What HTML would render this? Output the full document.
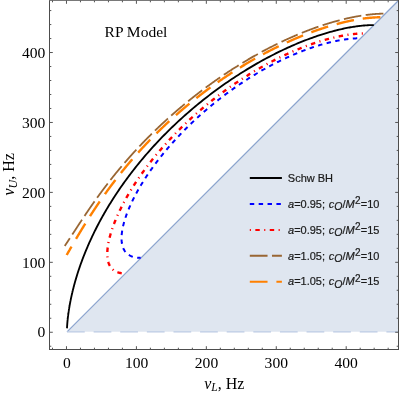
<!DOCTYPE html>
<html><head><meta charset="utf-8"><title>RP Model</title>
<style>html,body{margin:0;padding:0;background:#fff}svg{display:block}</style></head>
<body>
<svg width="399" height="393" viewBox="0 0 399 393">
<rect width="399" height="393" fill="#fff"/>
<polygon points="67.00,331.80 398.50,331.80 398.50,0.50" fill="#dfe6f0"/>
<line x1="67.00" y1="331.80" x2="398.50" y2="0.50" stroke="#8ba4ce" stroke-width="1.2"/>
<line x1="67.00" y1="331.80" x2="398.50" y2="331.80" stroke="#bccae4" stroke-width="1.3" stroke-dasharray="17.744 8.872" stroke-dashoffset="0"/>
<path d="M373.82,25.08 L373.70,25.08 L373.49,25.08 L373.21,25.08 L372.87,25.09 L372.50,25.09 L372.08,25.10 L371.62,25.11 L371.13,25.12 L370.60,25.13 L370.04,25.15 L369.45,25.17 L368.83,25.20 L368.17,25.23 L367.49,25.27 L366.78,25.31 L366.04,25.36 L365.27,25.41 L364.48,25.47 L363.66,25.54 L362.81,25.62 L361.93,25.70 L361.03,25.80 L360.10,25.90 L359.15,26.01 L358.17,26.13 L357.16,26.26 L356.13,26.40 L355.07,26.55 L353.99,26.72 L352.88,26.89 L351.74,27.08 L350.58,27.27 L349.40,27.49 L348.19,27.71 L346.96,27.95 L345.70,28.20 L344.41,28.46 L343.11,28.74 L341.77,29.03 L340.42,29.34 L339.04,29.66 L337.64,30.00 L336.21,30.36 L334.76,30.73 L333.28,31.12 L331.79,31.52 L330.27,31.94 L328.73,32.38 L327.16,32.83 L325.58,33.31 L323.97,33.80 L322.34,34.31 L320.69,34.84 L319.02,35.38 L317.33,35.95 L315.62,36.53 L313.89,37.14 L312.14,37.76 L310.37,38.40 L308.58,39.07 L306.77,39.75 L304.95,40.45 L303.11,41.18 L301.25,41.92 L299.37,42.68 L297.48,43.46 L295.58,44.27 L293.66,45.09 L291.72,45.94 L289.77,46.80 L287.81,47.69 L285.84,48.59 L283.85,49.52 L281.85,50.47 L279.84,51.44 L277.82,52.42 L275.78,53.43 L273.74,54.46 L271.69,55.51 L269.64,56.58 L267.57,57.67 L265.50,58.78 L263.42,59.91 L261.33,61.05 L259.24,62.22 L257.15,63.41 L255.05,64.61 L252.94,65.84 L250.84,67.08 L248.73,68.34 L246.62,69.62 L244.51,70.92 L242.40,72.23 L240.29,73.56 L238.19,74.91 L236.08,76.27 L233.97,77.65 L231.87,79.05 L229.77,80.46 L227.68,81.89 L225.59,83.34 L223.51,84.79 L221.43,86.27 L219.36,87.75 L217.29,89.25 L215.23,90.76 L213.18,92.29 L211.14,93.83 L209.11,95.37 L207.09,96.94 L205.08,98.51 L203.08,100.09 L201.09,101.68 L199.11,103.29 L197.14,104.90 L195.19,106.52 L193.24,108.15 L191.32,109.79 L189.40,111.43 L187.50,113.08 L185.61,114.74 L183.74,116.41 L181.89,118.08 L180.05,119.76 L178.22,121.44 L176.41,123.12 L174.62,124.81 L172.85,126.51 L171.09,128.20 L169.35,129.90 L167.62,131.61 L165.92,133.31 L164.23,135.01 L162.56,136.72 L160.91,138.43 L159.27,140.13 L157.66,141.84 L156.06,143.55 L154.49,145.25 L152.93,146.96 L151.39,148.66 L149.87,150.36 L148.37,152.06 L146.89,153.75 L145.42,155.44 L143.98,157.13 L142.56,158.81 L141.15,160.49 L139.77,162.17 L138.40,163.84 L137.05,165.50 L135.73,167.16 L134.42,168.81 L133.13,170.46 L131.86,172.10 L130.61,173.73 L129.38,175.36 L128.17,176.98 L126.98,178.59 L125.80,180.19 L124.64,181.78 L123.51,183.37 L122.39,184.95 L121.29,186.52 L120.21,188.08 L119.14,189.63 L118.09,191.17 L117.06,192.71 L116.05,194.23 L115.06,195.74 L114.08,197.24 L113.12,198.74 L112.18,200.22 L111.25,201.69 L110.35,203.15 L109.45,204.60 L108.58,206.04 L107.71,207.47 L106.87,208.89 L106.04,210.29 L105.23,211.69 L104.43,213.07 L103.64,214.44 L102.87,215.80 L102.12,217.15 L101.38,218.49 L100.65,219.81 L99.94,221.13 L99.24,222.43 L98.56,223.72 L97.89,225.00 L97.23,226.26 L96.59,227.52 L95.96,228.76 L95.34,229.99 L94.73,231.21 L94.14,232.42 L93.55,233.61 L92.98,234.79 L92.42,235.96 L91.88,237.12 L91.34,238.27 L90.81,239.41 L90.30,240.53 L89.80,241.64 L89.30,242.74 L88.82,243.83 L88.35,244.91 L87.88,245.97 L87.43,247.02 L86.99,248.06 L86.55,249.09 L86.13,250.11 L85.71,251.12 L85.30,252.12 L84.90,253.10 L84.51,254.08 L84.13,255.04 L83.76,255.99 L83.39,256.93 L83.03,257.86 L82.68,258.78 L82.34,259.69 L82.01,260.58 L81.68,261.47 L81.36,262.35 L81.04,263.21 L80.74,264.07 L80.44,264.91 L80.14,265.75 L79.86,266.57 L79.58,267.39 L79.30,268.19 L79.03,268.99 L78.77,269.77 L78.51,270.55 L78.26,271.31 L78.02,272.07 L77.78,272.82 L77.54,273.55 L77.31,274.28 L77.09,275.00 L76.87,275.71 L76.65,276.41 L76.44,277.11 L76.24,277.79 L76.04,278.47 L75.84,279.13 L75.65,279.79 L75.46,280.44 L75.28,281.08 L75.10,281.71 L74.92,282.34 L74.75,282.96 L74.58,283.57 L74.42,284.17 L74.26,284.76 L74.10,285.35 L73.95,285.92 L73.80,286.49 L73.65,287.06 L73.51,287.61 L73.37,288.16 L73.23,288.70 L73.09,289.24 L72.96,289.77 L72.84,290.29 L72.71,290.80 L72.59,291.31 L72.47,291.81 L72.35,292.30 L72.24,292.79 L72.12,293.27 L72.01,293.74 L71.91,294.21 L71.80,294.68 L71.70,295.13 L71.60,295.58 L71.50,296.03 L71.41,296.46 L71.31,296.90 L71.22,297.32 L71.13,297.74 L71.04,298.16 L70.96,298.57 L70.87,298.98 L70.79,299.37 L70.71,299.77 L70.63,300.16 L70.56,300.54 L70.48,300.92 L70.41,301.29 L70.34,301.66 L70.27,302.03 L70.20,302.39 L70.13,302.74 L70.07,303.09 L70.00,303.43 L69.94,303.78 L69.88,304.11 L69.82,304.44 L69.76,304.77 L69.70,305.09 L69.64,305.41 L69.59,305.73 L69.54,306.04 L69.48,306.34 L69.43,306.64 L69.38,306.94 L69.33,307.24 L69.28,307.53 L69.24,307.81 L69.19,308.10 L69.14,308.38 L69.10,308.65 L69.06,308.92 L69.01,309.19 L68.97,309.46 L68.93,309.72 L68.89,309.98 L68.85,310.23 L68.81,310.48 L68.78,310.73 L68.74,310.97 L68.70,311.22 L68.67,311.45 L68.64,311.69 L68.60,311.92 L68.57,312.15 L68.54,312.38 L68.51,312.60 L68.47,312.82 L68.44,313.04 L68.41,313.25 L68.39,313.47 L68.36,313.68 L68.33,313.88 L68.30,314.09 L68.28,314.29 L68.25,314.49 L68.22,314.68 L68.20,314.88 L68.18,315.07 L68.15,315.26 L68.13,315.44 L68.10,315.63 L68.08,315.81 L68.06,315.99 L68.04,316.16 L68.02,316.34 L68.00,316.51 L67.98,316.68 L67.96,316.85 L67.94,317.02 L67.92,317.18 L67.90,317.34 L67.88,317.50 L67.86,317.66 L67.84,317.82 L67.83,317.97 L67.81,318.12 L67.79,318.27 L67.78,318.42 L67.76,318.57 L67.75,318.71 L67.73,318.85 L67.72,318.99 L67.70,319.13 L67.69,319.27 L67.67,319.41 L67.66,319.54 L67.65,319.67 L67.63,319.80 L67.62,319.93 L67.61,320.06 L67.59,320.19 L67.58,320.31 L67.57,320.43 L67.56,320.56 L67.55,320.68 L67.53,320.79 L67.52,320.91 L67.51,321.03 L67.50,321.14 L67.49,321.25 L67.48,321.37 L67.47,321.48 L67.46,321.58 L67.45,321.69 L67.44,321.80 L67.43,321.90 L67.42,322.01 L67.41,322.11 L67.41,322.21 L67.40,322.31 L67.39,322.41 L67.38,322.51 L67.37,322.60 L67.36,322.70 L67.36,322.79 L67.35,322.89 L67.34,322.98 L67.33,323.07 L67.33,323.16 L67.32,323.25 L67.31,323.33 L67.30,323.42 L67.30,323.51 L67.29,323.59 L67.28,323.67 L67.28,323.76 L67.27,323.84 L67.27,323.92 L67.26,324.00 L67.25,324.08 L67.25,324.16 L67.24,324.23 L67.24,324.31 L67.23,324.38 L67.23,324.46 L67.22,324.53 L67.22,324.61 L67.21,324.68 L67.20,324.75 L67.20,324.82 L67.20,324.89 L67.19,324.96 L67.19,325.02 L67.18,325.09 L67.18,325.16 L67.17,325.22 L67.17,325.29 L67.16,325.35 L67.16,325.42 L67.16,325.48 L67.15,325.54 L67.15,325.60 L67.14,325.66 L67.14,325.72 L67.14,325.78 L67.13,325.84 L67.13,325.90 L67.12,325.95 L67.12,326.01 L67.12,326.07 L67.11,326.12 L67.11,326.18 L67.11,326.23 L67.10,326.29 L67.10,326.34 L67.10,326.39 L67.10,326.44 L67.09,326.49 L67.09,326.54 L67.09,326.59 L67.08,326.64 L67.08,326.69 L67.08,326.74 L67.08,326.79 L67.07,326.84 L67.07,326.88 L67.07,326.93 L67.06,326.98 L67.06,327.02 L67.06,327.07 L67.06,327.11 L67.05,327.15 L67.05,327.20 L67.05,327.24 L67.05,327.28 L67.05,327.33 L67.04,327.37 L67.04,327.41 L67.04,327.45 L67.04,327.49 L67.04,327.53 L67.03,327.57 L67.03,327.61 L67.03,327.65 L67.03,327.69 L67.03,327.72 L67.02,327.76 L67.02,327.80 L67.02,327.84 L67.02,327.87 L67.02,327.91 L67.02,327.94 L67.01,327.98 L67.01,328.01 L67.01,328.05 L67.01,328.08 L67.01,328.12 L67.01,328.15 L67.00,328.18 L67.00,328.21 L67.00,328.25 L67.00,328.28 L67.00,328.31 L67.00,328.34" fill="none" stroke="#000" stroke-width="1.85" stroke-linejoin="round"/>
<path d="M357.23,38.33 L356.73,38.35 L356.23,38.37 L355.73,38.39 L355.24,38.42 L354.74,38.45 L354.24,38.48 L353.74,38.51 L353.24,38.55 L352.74,38.59 L352.24,38.63 L351.74,38.67 L351.25,38.72 L350.75,38.76 L350.25,38.81 L349.75,38.86 L349.26,38.91 L348.76,38.97 L348.26,39.03 L347.77,39.08 L347.27,39.15 L346.77,39.21 L346.28,39.27 L345.78,39.34 L345.29,39.41 L344.79,39.48 L344.30,39.55 L343.80,39.62 L343.31,39.70 L342.81,39.77 L342.32,39.85 L341.83,39.93 L341.33,40.01 L340.84,40.10 L340.35,40.18 L339.86,40.27 L339.36,40.36 L338.87,40.45 L338.38,40.54 L337.89,40.63 L337.40,40.73 L336.91,40.82 L336.42,40.92 L335.93,41.02 L335.44,41.12 L334.95,41.22 L334.46,41.33 L333.97,41.43 L333.48,41.54 L332.99,41.65 L332.50,41.76 L332.02,41.87 L331.53,41.98 L331.04,42.09 L330.56,42.21 L330.07,42.32 L329.58,42.44 L329.10,42.56 L328.61,42.68 L328.13,42.80 L327.64,42.92 L327.16,43.05 L326.67,43.17 L326.19,43.30 L325.71,43.43 L325.22,43.56 L324.74,43.69 L324.26,43.82 L323.78,43.95 L323.30,44.08 L322.81,44.22 L322.33,44.36 L321.85,44.49 L321.37,44.63 L320.89,44.77 L320.41,44.91 L319.93,45.05 L319.45,45.20 L318.97,45.34 L318.50,45.49 L318.02,45.63 L317.54,45.78 L317.06,45.93 L316.59,46.08 L316.11,46.23 L315.63,46.38 L315.16,46.53 L314.68,46.69 L314.21,46.84 L313.73,47.00 L313.26,47.16 L312.78,47.32 L312.31,47.47 L311.83,47.63 L311.36,47.80 L310.89,47.96 L310.42,48.12 L309.94,48.29 L309.47,48.45 L309.00,48.62 L308.53,48.78 L308.06,48.95 L307.59,49.12 L307.12,49.29 L306.65,49.46 L306.18,49.63 L305.71,49.81 L305.24,49.98 L304.77,50.16 L304.30,50.33 L303.84,50.51 L303.37,50.69 L302.90,50.87 L302.43,51.04 L301.97,51.22 L301.50,51.41 L301.04,51.59 L300.57,51.77 L300.11,51.96 L299.64,52.14 L299.18,52.33 L298.71,52.51 L298.25,52.70 L297.79,52.89 L297.32,53.08 L296.86,53.27 L296.40,53.46 L295.94,53.65 L295.48,53.84 L295.02,54.04 L294.55,54.23 L294.09,54.43 L293.63,54.62 L293.17,54.82 L292.72,55.02 L292.26,55.21 L291.80,55.41 L291.34,55.61 L290.88,55.81 L290.42,56.02 L289.97,56.22 L289.51,56.42 L289.05,56.63 L288.60,56.83 L288.14,57.04 L287.69,57.24 L287.23,57.45 L286.78,57.66 L286.32,57.87 L285.87,58.08 L285.42,58.29 L284.96,58.50 L284.51,58.71 L284.06,58.92 L283.60,59.14 L283.15,59.35 L282.70,59.57 L282.25,59.78 L281.80,60.00 L281.35,60.22 L280.90,60.43 L280.45,60.65 L280.00,60.87 L279.55,61.09 L279.10,61.31 L278.65,61.53 L278.21,61.76 L277.76,61.98 L277.31,62.20 L276.87,62.43 L276.42,62.65 L275.97,62.88 L275.53,63.11 L275.08,63.33 L274.64,63.56 L274.19,63.79 L273.75,64.02 L273.30,64.25 L272.86,64.48 L272.42,64.71 L271.98,64.95 L271.53,65.18 L271.09,65.41 L270.65,65.65 L270.21,65.88 L269.77,66.12 L269.33,66.35 L268.89,66.59 L268.45,66.83 L268.01,67.07 L267.57,67.31 L267.13,67.55 L266.69,67.79 L266.25,68.03 L265.82,68.27 L265.38,68.51 L264.94,68.76 L264.51,69.00 L264.07,69.25 L263.63,69.49 L263.20,69.74 L262.76,69.98 L262.33,70.23 L261.89,70.48 L261.46,70.73 L261.03,70.98 L260.59,71.22 L260.16,71.48 L259.73,71.73 L259.30,71.98 L258.86,72.23 L258.43,72.48 L258.00,72.74 L257.57,72.99 L257.14,73.25 L256.71,73.50 L256.28,73.76 L255.85,74.01 L255.42,74.27 L255.00,74.53 L254.57,74.79 L254.14,75.05 L253.71,75.31 L253.29,75.57 L252.86,75.83 L252.43,76.09 L252.01,76.35 L251.58,76.62 L251.16,76.88 L250.73,77.14 L250.31,77.41 L249.89,77.67 L249.46,77.94 L249.04,78.21 L248.62,78.47 L248.19,78.74 L247.77,79.01 L247.35,79.28 L246.93,79.55 L246.51,79.82 L246.09,80.09 L245.67,80.36 L245.25,80.63 L244.83,80.90 L244.41,81.18 L243.99,81.45 L243.58,81.73 L243.16,82.00 L242.74,82.28 L242.32,82.55 L241.91,82.83 L241.49,83.11 L241.07,83.38 L240.66,83.66 L240.24,83.94 L239.83,84.22 L239.42,84.50 L239.00,84.78 L238.59,85.06 L238.18,85.34 L237.76,85.63 L237.35,85.91 L236.94,86.19 L236.53,86.48 L236.12,86.76 L235.71,87.05 L235.30,87.33 L234.89,87.62 L234.48,87.91 L234.07,88.19 L233.66,88.48 L233.25,88.77 L232.84,89.06 L232.43,89.35 L232.03,89.64 L231.62,89.93 L231.21,90.22 L230.81,90.51 L230.40,90.81 L230.00,91.10 L229.59,91.39 L229.19,91.69 L228.79,91.98 L228.38,92.28 L227.98,92.57 L227.58,92.87 L227.17,93.17 L226.77,93.46 L226.37,93.76 L225.97,94.06 L225.57,94.36 L225.17,94.66 L224.77,94.96 L224.37,95.26 L223.97,95.56 L223.57,95.86 L223.17,96.17 L222.77,96.47 L222.38,96.77 L221.98,97.08 L221.58,97.38 L221.19,97.68 L220.79,97.99 L220.40,98.30 L220.00,98.60 L219.61,98.91 L219.21,99.22 L218.82,99.53 L218.43,99.83 L218.03,100.14 L217.64,100.45 L217.25,100.76 L216.86,101.08 L216.47,101.39 L216.07,101.70 L215.68,102.01 L215.29,102.32 L214.90,102.64 L214.52,102.95 L214.13,103.27 L213.74,103.58 L213.35,103.90 L212.96,104.21 L212.58,104.53 L212.19,104.85 L211.80,105.16 L211.42,105.48 L211.03,105.80 L210.65,106.12 L210.26,106.44 L209.88,106.76 L209.50,107.08 L209.11,107.40 L208.73,107.72 L208.35,108.05 L207.97,108.37 L207.59,108.69 L207.20,109.02 L206.82,109.34 L206.44,109.67 L206.06,109.99 L205.69,110.32 L205.31,110.64 L204.93,110.97 L204.55,111.30 L204.17,111.63 L203.80,111.95 L203.42,112.28 L203.04,112.61 L202.67,112.94 L202.29,113.27 L201.92,113.60 L201.54,113.94 L201.17,114.27 L200.80,114.60 L200.42,114.93 L200.05,115.27 L199.68,115.60 L199.31,115.94 L198.94,116.27 L198.57,116.61 L198.20,116.94 L197.83,117.28 L197.46,117.62 L197.09,117.95 L196.72,118.29 L196.35,118.63 L195.98,118.97 L195.62,119.31 L195.25,119.65 L194.89,119.99 L194.52,120.33 L194.15,120.67 L193.79,121.02 L193.43,121.36 L193.06,121.70 L192.70,122.05 L192.34,122.39 L191.97,122.73 L191.61,123.08 L191.25,123.43 L190.89,123.77 L190.53,124.12 L190.17,124.47 L189.81,124.81 L189.45,125.16 L189.09,125.51 L188.74,125.86 L188.38,126.21 L188.02,126.56 L187.67,126.91 L187.31,127.26 L186.95,127.61 L186.60,127.97 L186.25,128.32 L185.89,128.67 L185.54,129.03 L185.19,129.38 L184.83,129.73 L184.48,130.09 L184.13,130.45 L183.78,130.80 L183.43,131.16 L183.08,131.52 L182.73,131.87 L182.38,132.23 L182.03,132.59 L181.68,132.95 L181.34,133.31 L180.99,133.67 L180.64,134.03 L180.30,134.39 L179.95,134.75 L179.61,135.12 L179.26,135.48 L178.92,135.84 L178.58,136.20 L178.24,136.57 L177.89,136.93 L177.55,137.30 L177.21,137.66 L176.87,138.03 L176.53,138.40 L176.19,138.76 L175.85,139.13 L175.51,139.50 L175.18,139.87 L174.84,140.24 L174.50,140.61 L174.17,140.98 L173.83,141.35 L173.50,141.72 L173.16,142.09 L172.83,142.47 L172.50,142.84 L172.16,143.21 L171.83,143.58 L171.50,143.96 L171.17,144.33 L170.84,144.71 L170.51,145.08 L170.18,145.46 L169.85,145.84 L169.52,146.22 L169.19,146.59 L168.87,146.97 L168.54,147.35 L168.22,147.73 L167.89,148.11 L167.57,148.49 L167.24,148.87 L166.92,149.25 L166.60,149.63 L166.27,150.02 L165.95,150.40 L165.63,150.78 L165.31,151.17 L164.99,151.55 L164.67,151.94 L164.35,152.32 L164.03,152.71 L163.72,153.09 L163.40,153.48 L163.08,153.87 L162.77,154.26 L162.45,154.64 L162.14,155.03 L161.83,155.42 L161.51,155.81 L161.20,156.20 L160.89,156.59 L160.58,156.99 L160.27,157.38 L159.96,157.77 L159.65,158.16 L159.34,158.56 L159.03,158.95 L158.73,159.35 L158.42,159.74 L158.11,160.14 L157.81,160.53 L157.51,160.93 L157.20,161.33 L156.90,161.72 L156.60,162.12 L156.29,162.52 L155.99,162.92 L155.69,163.32 L155.39,163.72 L155.10,164.12 L154.80,164.52 L154.50,164.92 L154.20,165.33 L153.91,165.73 L153.61,166.13 L153.32,166.54 L153.02,166.94 L152.73,167.35 L152.44,167.75 L152.15,168.16 L151.86,168.57 L151.56,168.97 L151.28,169.38 L150.99,169.79 L150.70,170.20 L150.41,170.61 L150.13,171.02 L149.84,171.43 L149.55,171.84 L149.27,172.25 L148.99,172.66 L148.70,173.07 L148.42,173.49 L148.14,173.90 L147.86,174.31 L147.58,174.73 L147.30,175.14 L147.03,175.56 L146.75,175.98 L146.47,176.39 L146.20,176.81 L145.92,177.23 L145.65,177.65 L145.38,178.07 L145.11,178.49 L144.83,178.91 L144.56,179.33 L144.29,179.75 L144.03,180.17 L143.76,180.59 L143.49,181.01 L143.23,181.44 L142.96,181.86 L142.70,182.29 L142.43,182.71 L142.17,183.14 L141.91,183.56 L141.65,183.99 L141.39,184.42 L141.13,184.85 L140.87,185.27 L140.62,185.70 L140.36,186.13 L140.11,186.56 L139.85,186.99 L139.60,187.43 L139.35,187.86 L139.10,188.29 L138.85,188.72 L138.60,189.16 L138.35,189.59 L138.10,190.03 L137.86,190.46 L137.61,190.90 L137.37,191.33 L137.13,191.77 L136.89,192.21 L136.64,192.65 L136.41,193.09 L136.17,193.53 L135.93,193.97 L135.69,194.41 L135.46,194.85 L135.22,195.29 L134.99,195.73 L134.76,196.18 L134.53,196.62 L134.30,197.06 L134.07,197.51 L133.85,197.95 L133.62,198.40 L133.40,198.85 L133.17,199.30 L132.95,199.74 L132.73,200.19 L132.51,200.64 L132.29,201.09 L132.08,201.54 L131.86,201.99 L131.65,202.44 L131.43,202.90 L131.22,203.35 L131.01,203.80 L130.80,204.26 L130.60,204.71 L130.39,205.17 L130.19,205.63 L129.98,206.08 L129.78,206.54 L129.58,207.00 L129.38,207.46 L129.19,207.92 L128.99,208.38 L128.80,208.84 L128.61,209.30 L128.42,209.76 L128.23,210.23 L128.04,210.69 L127.86,211.15 L127.67,211.62 L127.49,212.08 L127.31,212.55 L127.13,213.02 L126.96,213.49 L126.78,213.95 L126.61,214.42 L126.44,214.89 L126.27,215.36 L126.10,215.84 L125.94,216.31 L125.77,216.78 L125.61,217.25 L125.45,217.73 L125.30,218.20 L125.14,218.68 L124.99,219.16 L124.84,219.63 L124.70,220.11 L124.55,220.59 L124.41,221.07 L124.27,221.55 L124.13,222.03 L124.00,222.51 L123.86,222.99 L123.73,223.48 L123.61,223.96 L123.48,224.44 L123.36,224.93 L123.24,225.41 L123.13,225.90 L123.02,226.39 L122.91,226.88 L122.80,227.37 L122.70,227.85 L122.60,228.34 L122.51,228.84 L122.42,229.33 L122.33,229.82 L122.24,230.31 L122.16,230.81 L122.09,231.30 L122.02,231.79 L121.95,232.29 L121.89,232.79 L121.83,233.28 L121.77,233.78 L121.73,234.28 L121.68,234.78 L121.64,235.27 L121.61,235.77 L121.58,236.27 L121.56,236.77 L121.54,237.27 L121.53,237.77 L121.53,238.27 L121.53,238.77 L121.54,239.27 L121.56,239.77 L121.58,240.27 L121.61,240.77 L121.65,241.27 L121.70,241.77 L121.75,242.26 L121.82,242.76 L121.89,243.25 L121.98,243.75 L122.07,244.24 L122.17,244.73 L122.29,245.21 L122.41,245.70 L122.55,246.18 L122.70,246.66 L122.86,247.13 L123.03,247.60 L123.21,248.06 L123.41,248.52 L123.62,248.98 L123.85,249.42 L124.08,249.86 L124.34,250.29 L124.60,250.72 L124.88,251.13 L125.18,251.53 L125.49,251.93 L125.81,252.31 L126.14,252.68 L126.49,253.04 L126.85,253.39 L127.23,253.72 L127.61,254.04 L128.01,254.34 L128.42,254.63 L128.83,254.91 L129.26,255.17 L129.69,255.42 L130.13,255.66 L130.58,255.88 L131.04,256.08 L131.50,256.28 L131.96,256.46 L132.43,256.63 L132.91,256.78 L133.39,256.92 L133.87,257.06 L134.36,257.18 L134.84,257.29 L135.33,257.38 L135.83,257.47 L136.32,257.55 L136.81,257.62 L137.31,257.68 L137.81,257.73 L138.31,257.78 L138.81,257.81 L139.30,257.84 L139.80,257.86 L140.30,257.87 L140.70,257.88" fill="none" stroke="#0000ff" stroke-width="2.0" stroke-linejoin="round" stroke-dasharray="4.436 4.436" stroke-dashoffset="0"/>
<path d="M362.86,33.42 L362.36,33.44 L361.86,33.46 L361.36,33.47 L360.86,33.50 L360.37,33.52 L359.87,33.55 L359.37,33.58 L358.87,33.61 L358.37,33.64 L357.87,33.68 L357.37,33.71 L356.87,33.75 L356.38,33.79 L355.88,33.84 L355.38,33.88 L354.88,33.93 L354.38,33.98 L353.89,34.03 L353.39,34.09 L352.89,34.14 L352.40,34.20 L351.90,34.26 L351.40,34.32 L350.91,34.38 L350.41,34.45 L349.92,34.51 L349.42,34.58 L348.92,34.65 L348.43,34.72 L347.94,34.79 L347.44,34.87 L346.95,34.95 L346.45,35.02 L345.96,35.10 L345.47,35.18 L344.97,35.27 L344.48,35.35 L343.99,35.44 L343.50,35.52 L343.00,35.61 L342.51,35.70 L342.02,35.80 L341.53,35.89 L341.04,35.98 L340.55,36.08 L340.06,36.18 L339.57,36.28 L339.08,36.38 L338.59,36.48 L338.10,36.58 L337.61,36.69 L337.12,36.79 L336.63,36.90 L336.14,37.01 L335.66,37.12 L335.17,37.23 L334.68,37.34 L334.20,37.46 L333.71,37.57 L333.22,37.69 L332.74,37.81 L332.25,37.93 L331.77,38.05 L331.28,38.17 L330.80,38.29 L330.31,38.41 L329.83,38.54 L329.34,38.66 L328.86,38.79 L328.38,38.92 L327.89,39.05 L327.41,39.18 L326.93,39.31 L326.45,39.45 L325.97,39.58 L325.48,39.72 L325.00,39.85 L324.52,39.99 L324.04,40.13 L323.56,40.27 L323.08,40.41 L322.60,40.55 L322.12,40.69 L321.64,40.84 L321.17,40.98 L320.69,41.13 L320.21,41.27 L319.73,41.42 L319.25,41.57 L318.78,41.72 L318.30,41.87 L317.82,42.02 L317.35,42.18 L316.87,42.33 L316.40,42.49 L315.92,42.64 L315.45,42.80 L314.97,42.96 L314.50,43.12 L314.03,43.28 L313.55,43.44 L313.08,43.60 L312.61,43.76 L312.13,43.93 L311.66,44.09 L311.19,44.26 L310.72,44.42 L310.25,44.59 L309.78,44.76 L309.31,44.93 L308.84,45.10 L308.37,45.27 L307.90,45.44 L307.43,45.61 L306.96,45.79 L306.49,45.96 L306.02,46.13 L305.55,46.31 L305.09,46.49 L304.62,46.67 L304.15,46.84 L303.68,47.02 L303.22,47.20 L302.75,47.39 L302.29,47.57 L301.82,47.75 L301.36,47.93 L300.89,48.12 L300.43,48.30 L299.96,48.49 L299.50,48.68 L299.04,48.87 L298.57,49.05 L298.11,49.24 L297.65,49.43 L297.19,49.62 L296.72,49.82 L296.26,50.01 L295.80,50.20 L295.34,50.40 L294.88,50.59 L294.42,50.79 L293.96,50.98 L293.50,51.18 L293.04,51.38 L292.58,51.58 L292.12,51.78 L291.67,51.98 L291.21,52.18 L290.75,52.38 L290.29,52.58 L289.84,52.79 L289.38,52.99 L288.92,53.19 L288.47,53.40 L288.01,53.61 L287.56,53.81 L287.10,54.02 L286.65,54.23 L286.19,54.44 L285.74,54.65 L285.29,54.86 L284.83,55.07 L284.38,55.28 L283.93,55.49 L283.48,55.71 L283.02,55.92 L282.57,56.14 L282.12,56.35 L281.67,56.57 L281.22,56.79 L280.77,57.00 L280.32,57.22 L279.87,57.44 L279.42,57.66 L278.97,57.88 L278.52,58.10 L278.08,58.32 L277.63,58.54 L277.18,58.77 L276.73,58.99 L276.29,59.22 L275.84,59.44 L275.39,59.67 L274.95,59.89 L274.50,60.12 L274.06,60.35 L273.61,60.58 L273.17,60.80 L272.72,61.03 L272.28,61.26 L271.84,61.50 L271.39,61.73 L270.95,61.96 L270.51,62.19 L270.07,62.43 L269.62,62.66 L269.18,62.89 L268.74,63.13 L268.30,63.37 L267.86,63.60 L267.42,63.84 L266.98,64.08 L266.54,64.32 L266.10,64.55 L265.66,64.79 L265.22,65.04 L264.79,65.28 L264.35,65.52 L263.91,65.76 L263.47,66.00 L263.04,66.25 L262.60,66.49 L262.17,66.74 L261.73,66.98 L261.29,67.23 L260.86,67.47 L260.42,67.72 L259.99,67.97 L259.56,68.22 L259.12,68.47 L258.69,68.71 L258.26,68.96 L257.82,69.22 L257.39,69.47 L256.96,69.72 L256.53,69.97 L256.10,70.22 L255.67,70.48 L255.24,70.73 L254.81,70.99 L254.38,71.24 L253.95,71.50 L253.52,71.76 L253.09,72.01 L252.66,72.27 L252.23,72.53 L251.80,72.79 L251.38,73.05 L250.95,73.31 L250.52,73.57 L250.10,73.83 L249.67,74.09 L249.25,74.35 L248.82,74.62 L248.40,74.88 L247.97,75.14 L247.55,75.41 L247.12,75.67 L246.70,75.94 L246.28,76.21 L245.85,76.47 L245.43,76.74 L245.01,77.01 L244.59,77.28 L244.17,77.55 L243.74,77.82 L243.32,78.09 L242.90,78.36 L242.48,78.63 L242.06,78.90 L241.64,79.17 L241.23,79.45 L240.81,79.72 L240.39,79.99 L239.97,80.27 L239.55,80.54 L239.14,80.82 L238.72,81.10 L238.30,81.37 L237.89,81.65 L237.47,81.93 L237.06,82.21 L236.64,82.49 L236.23,82.76 L235.81,83.04 L235.40,83.33 L234.99,83.61 L234.57,83.89 L234.16,84.17 L233.75,84.45 L233.34,84.74 L232.92,85.02 L232.51,85.30 L232.10,85.59 L231.69,85.87 L231.28,86.16 L230.87,86.45 L230.46,86.73 L230.05,87.02 L229.64,87.31 L229.24,87.60 L228.83,87.89 L228.42,88.18 L228.01,88.47 L227.61,88.76 L227.20,89.05 L226.79,89.34 L226.39,89.63 L225.98,89.93 L225.58,90.22 L225.17,90.51 L224.77,90.81 L224.36,91.10 L223.96,91.40 L223.56,91.69 L223.16,91.99 L222.75,92.29 L222.35,92.58 L221.95,92.88 L221.55,93.18 L221.15,93.48 L220.75,93.78 L220.35,94.08 L219.95,94.38 L219.55,94.68 L219.15,94.98 L218.75,95.28 L218.35,95.59 L217.96,95.89 L217.56,96.19 L217.16,96.50 L216.76,96.80 L216.37,97.11 L215.97,97.41 L215.58,97.72 L215.18,98.02 L214.79,98.33 L214.39,98.64 L214.00,98.95 L213.61,99.25 L213.21,99.56 L212.82,99.87 L212.43,100.18 L212.04,100.49 L211.64,100.80 L211.25,101.12 L210.86,101.43 L210.47,101.74 L210.08,102.05 L209.69,102.37 L209.30,102.68 L208.91,103.00 L208.53,103.31 L208.14,103.63 L207.75,103.94 L207.36,104.26 L206.98,104.58 L206.59,104.89 L206.20,105.21 L205.82,105.53 L205.43,105.85 L205.05,106.17 L204.67,106.49 L204.28,106.81 L203.90,107.13 L203.51,107.45 L203.13,107.77 L202.75,108.09 L202.37,108.42 L201.99,108.74 L201.61,109.06 L201.22,109.39 L200.84,109.71 L200.46,110.04 L200.09,110.36 L199.71,110.69 L199.33,111.02 L198.95,111.34 L198.57,111.67 L198.19,112.00 L197.82,112.33 L197.44,112.66 L197.07,112.99 L196.69,113.32 L196.31,113.65 L195.94,113.98 L195.57,114.31 L195.19,114.64 L194.82,114.97 L194.45,115.31 L194.07,115.64 L193.70,115.97 L193.33,116.31 L192.96,116.64 L192.59,116.98 L192.22,117.32 L191.85,117.65 L191.48,117.99 L191.11,118.33 L190.74,118.66 L190.37,119.00 L190.00,119.34 L189.64,119.68 L189.27,120.02 L188.90,120.36 L188.54,120.70 L188.17,121.04 L187.81,121.38 L187.44,121.72 L187.08,122.07 L186.71,122.41 L186.35,122.75 L185.99,123.10 L185.62,123.44 L185.26,123.79 L184.90,124.13 L184.54,124.48 L184.18,124.82 L183.82,125.17 L183.46,125.52 L183.10,125.87 L182.74,126.21 L182.38,126.56 L182.02,126.91 L181.67,127.26 L181.31,127.61 L180.95,127.96 L180.60,128.31 L180.24,128.66 L179.89,129.02 L179.53,129.37 L179.18,129.72 L178.82,130.07 L178.47,130.43 L178.12,130.78 L177.76,131.14 L177.41,131.49 L177.06,131.85 L176.71,132.20 L176.36,132.56 L176.01,132.92 L175.66,133.28 L175.31,133.63 L174.96,133.99 L174.61,134.35 L174.27,134.71 L173.92,135.07 L173.57,135.43 L173.23,135.79 L172.88,136.15 L172.54,136.51 L172.19,136.88 L171.85,137.24 L171.50,137.60 L171.16,137.97 L170.82,138.33 L170.48,138.70 L170.13,139.06 L169.79,139.43 L169.45,139.79 L169.11,140.16 L168.77,140.53 L168.43,140.89 L168.10,141.26 L167.76,141.63 L167.42,142.00 L167.08,142.37 L166.75,142.74 L166.41,143.11 L166.07,143.48 L165.74,143.85 L165.41,144.22 L165.07,144.59 L164.74,144.97 L164.41,145.34 L164.07,145.71 L163.74,146.09 L163.41,146.46 L163.08,146.84 L162.75,147.21 L162.42,147.59 L162.09,147.96 L161.76,148.34 L161.43,148.72 L161.11,149.10 L160.78,149.47 L160.45,149.85 L160.13,150.23 L159.80,150.61 L159.48,150.99 L159.15,151.37 L158.83,151.75 L158.50,152.13 L158.18,152.52 L157.86,152.90 L157.54,153.28 L157.22,153.66 L156.90,154.05 L156.58,154.43 L156.26,154.82 L155.94,155.20 L155.62,155.59 L155.30,155.97 L154.99,156.36 L154.67,156.75 L154.35,157.14 L154.04,157.52 L153.72,157.91 L153.41,158.30 L153.10,158.69 L152.78,159.08 L152.47,159.47 L152.16,159.86 L151.85,160.25 L151.54,160.65 L151.23,161.04 L150.92,161.43 L150.61,161.82 L150.30,162.22 L149.99,162.61 L149.69,163.01 L149.38,163.40 L149.07,163.80 L148.77,164.19 L148.47,164.59 L148.16,164.99 L147.86,165.39 L147.56,165.78 L147.25,166.18 L146.95,166.58 L146.65,166.98 L146.35,167.38 L146.05,167.78 L145.75,168.18 L145.45,168.58 L145.16,168.98 L144.86,169.39 L144.56,169.79 L144.27,170.19 L143.97,170.60 L143.68,171.00 L143.39,171.41 L143.09,171.81 L142.80,172.22 L142.51,172.62 L142.22,173.03 L141.93,173.44 L141.64,173.84 L141.35,174.25 L141.06,174.66 L140.77,175.07 L140.49,175.48 L140.20,175.89 L139.91,176.30 L139.63,176.71 L139.35,177.12 L139.06,177.53 L138.78,177.95 L138.50,178.36 L138.22,178.77 L137.94,179.19 L137.66,179.60 L137.38,180.02 L137.10,180.43 L136.82,180.85 L136.54,181.26 L136.27,181.68 L135.99,182.10 L135.72,182.51 L135.44,182.93 L135.17,183.35 L134.90,183.77 L134.63,184.19 L134.35,184.61 L134.08,185.03 L133.81,185.45 L133.55,185.87 L133.28,186.30 L133.01,186.72 L132.74,187.14 L132.48,187.57 L132.21,187.99 L131.95,188.41 L131.69,188.84 L131.42,189.27 L131.16,189.69 L130.90,190.12 L130.64,190.54 L130.38,190.97 L130.12,191.40 L129.87,191.83 L129.61,192.26 L129.36,192.69 L129.10,193.12 L128.85,193.55 L128.59,193.98 L128.34,194.41 L128.09,194.84 L127.84,195.28 L127.59,195.71 L127.34,196.14 L127.09,196.58 L126.84,197.01 L126.60,197.45 L126.35,197.88 L126.11,198.32 L125.87,198.76 L125.62,199.19 L125.38,199.63 L125.14,200.07 L124.90,200.51 L124.66,200.95 L124.42,201.39 L124.19,201.83 L123.95,202.27 L123.72,202.71 L123.48,203.15 L123.25,203.59 L123.02,204.04 L122.79,204.48 L122.56,204.92 L122.33,205.37 L122.10,205.81 L121.87,206.26 L121.65,206.71 L121.42,207.15 L121.20,207.60 L120.98,208.05 L120.76,208.50 L120.53,208.94 L120.32,209.39 L120.10,209.84 L119.88,210.29 L119.66,210.74 L119.45,211.20 L119.24,211.65 L119.02,212.10 L118.81,212.55 L118.60,213.01 L118.39,213.46 L118.18,213.92 L117.98,214.37 L117.77,214.83 L117.57,215.28 L117.36,215.74 L117.16,216.20 L116.96,216.66 L116.76,217.12 L116.57,217.57 L116.37,218.03 L116.17,218.49 L115.98,218.96 L115.79,219.42 L115.60,219.88 L115.41,220.34 L115.22,220.80 L115.03,221.27 L114.85,221.73 L114.66,222.20 L114.48,222.66 L114.30,223.13 L114.12,223.60 L113.94,224.06 L113.76,224.53 L113.59,225.00 L113.41,225.47 L113.24,225.94 L113.07,226.41 L112.90,226.88 L112.74,227.35 L112.57,227.82 L112.41,228.29 L112.25,228.77 L112.09,229.24 L111.93,229.71 L111.77,230.19 L111.62,230.67 L111.46,231.14 L111.31,231.62 L111.16,232.10 L111.02,232.57 L110.87,233.05 L110.73,233.53 L110.59,234.01 L110.45,234.49 L110.31,234.97 L110.18,235.45 L110.05,235.94 L109.92,236.42 L109.79,236.90 L109.67,237.39 L109.54,237.87 L109.42,238.36 L109.30,238.84 L109.19,239.33 L109.08,239.82 L108.97,240.30 L108.86,240.79 L108.76,241.28 L108.65,241.77 L108.56,242.26 L108.46,242.75 L108.37,243.24 L108.28,243.74 L108.19,244.23 L108.11,244.72 L108.03,245.21 L107.95,245.71 L107.88,246.20 L107.81,246.70 L107.75,247.19 L107.69,247.69 L107.63,248.19 L107.58,248.68 L107.53,249.18 L107.48,249.68 L107.44,250.18 L107.41,250.68 L107.38,251.18 L107.35,251.68 L107.33,252.18 L107.32,252.68 L107.31,253.18 L107.31,253.68 L107.31,254.18 L107.32,254.68 L107.33,255.17 L107.35,255.67 L107.38,256.17 L107.42,256.67 L107.46,257.17 L107.51,257.67 L107.57,258.16 L107.63,258.66 L107.71,259.15 L107.79,259.65 L107.88,260.14 L107.99,260.63 L108.10,261.12 L108.22,261.60 L108.36,262.08 L108.50,262.56 L108.66,263.03 L108.83,263.51 L109.01,263.97 L109.20,264.43 L109.41,264.89 L109.63,265.34 L109.87,265.78 L110.12,266.21 L110.38,266.64 L110.66,267.05 L110.95,267.46 L111.25,267.85 L111.57,268.24 L111.91,268.61 L112.25,268.97 L112.62,269.32 L112.99,269.65 L113.38,269.96 L113.77,270.27 L114.18,270.56 L114.60,270.83 L115.03,271.09 L115.47,271.33 L115.91,271.55 L116.37,271.77 L116.83,271.96 L117.29,272.15 L117.76,272.31 L118.24,272.47 L118.72,272.61 L119.20,272.74 L119.69,272.85 L120.18,272.96 L120.67,273.05 L121.16,273.13 L121.66,273.20 L122.15,273.26 L122.65,273.32 L122.90,273.34" fill="none" stroke="#ff0000" stroke-width="2.4" stroke-linejoin="round" stroke-dasharray="1.1 4.436 4.436 4.436" stroke-dashoffset="0"/>
<path d="M383.40,13.65 L382.90,13.66 L382.40,13.67 L381.90,13.68 L381.41,13.70 L380.91,13.71 L380.41,13.73 L379.91,13.75 L379.41,13.77 L378.91,13.80 L378.41,13.82 L377.91,13.85 L377.41,13.88 L376.91,13.91 L376.41,13.94 L375.91,13.97 L375.41,14.01 L374.92,14.05 L374.42,14.09 L373.92,14.13 L373.42,14.17 L372.92,14.21 L372.42,14.26 L371.93,14.30 L371.43,14.35 L370.93,14.40 L370.43,14.45 L369.94,14.51 L369.44,14.56 L368.94,14.62 L368.45,14.68 L367.95,14.73 L367.45,14.80 L366.96,14.86 L366.46,14.92 L365.97,14.98 L365.47,15.05 L364.97,15.12 L364.48,15.19 L363.98,15.26 L363.49,15.33 L362.99,15.40 L362.50,15.47 L362.01,15.55 L361.51,15.63 L361.02,15.70 L360.52,15.78 L360.03,15.86 L359.54,15.95 L359.04,16.03 L358.55,16.11 L358.06,16.20 L357.57,16.28 L357.07,16.37 L356.58,16.46 L356.09,16.55 L355.60,16.64 L355.11,16.73 L354.62,16.83 L354.12,16.92 L353.63,17.02 L353.14,17.11 L352.65,17.21 L352.16,17.31 L351.67,17.41 L351.18,17.51 L350.69,17.62 L350.20,17.72 L349.72,17.82 L349.23,17.93 L348.74,18.04 L348.25,18.14 L347.76,18.25 L347.27,18.36 L346.79,18.47 L346.30,18.59 L345.81,18.70 L345.33,18.81 L344.84,18.93 L344.35,19.04 L343.87,19.16 L343.38,19.28 L342.90,19.40 L342.41,19.52 L341.92,19.64 L341.44,19.76 L340.96,19.88 L340.47,20.01 L339.99,20.13 L339.50,20.26 L339.02,20.38 L338.54,20.51 L338.05,20.64 L337.57,20.77 L337.09,20.90 L336.60,21.03 L336.12,21.16 L335.64,21.30 L335.16,21.43 L334.68,21.56 L334.20,21.70 L333.71,21.84 L333.23,21.97 L332.75,22.11 L332.27,22.25 L331.79,22.39 L331.31,22.53 L330.83,22.67 L330.35,22.82 L329.88,22.96 L329.40,23.10 L328.92,23.25 L328.44,23.39 L327.96,23.54 L327.48,23.69 L327.01,23.84 L326.53,23.99 L326.05,24.14 L325.58,24.29 L325.10,24.44 L324.62,24.59 L324.15,24.74 L323.67,24.90 L323.20,25.05 L322.72,25.21 L322.25,25.36 L321.77,25.52 L321.30,25.68 L320.82,25.84 L320.35,26.00 L319.87,26.16 L319.40,26.32 L318.93,26.48 L318.46,26.64 L317.98,26.81 L317.51,26.97 L317.04,27.13 L316.57,27.30 L316.09,27.47 L315.62,27.63 L315.15,27.80 L314.68,27.97 L314.21,28.14 L313.74,28.31 L313.27,28.48 L312.80,28.65 L312.33,28.82 L311.86,28.99 L311.39,29.17 L310.92,29.34 L310.46,29.52 L309.99,29.69 L309.52,29.87 L309.05,30.04 L308.58,30.22 L308.12,30.40 L307.65,30.58 L307.18,30.76 L306.72,30.94 L306.25,31.12 L305.79,31.30 L305.32,31.48 L304.85,31.67 L304.39,31.85 L303.92,32.03 L303.46,32.22 L303.00,32.40 L302.53,32.59 L302.07,32.78 L301.60,32.96 L301.14,33.15 L300.68,33.34 L300.22,33.53 L299.75,33.72 L299.29,33.91 L298.83,34.10 L298.37,34.29 L297.91,34.49 L297.44,34.68 L296.98,34.87 L296.52,35.07 L296.06,35.26 L295.60,35.46 L295.14,35.66 L294.68,35.85 L294.22,36.05 L293.76,36.25 L293.31,36.45 L292.85,36.65 L292.39,36.85 L291.93,37.05 L291.47,37.25 L291.02,37.45 L290.56,37.65 L290.10,37.86 L289.65,38.06 L289.19,38.27 L288.73,38.47 L288.28,38.68 L287.82,38.88 L287.37,39.09 L286.91,39.30 L286.46,39.50 L286.00,39.71 L285.55,39.92 L285.09,40.13 L284.64,40.34 L284.19,40.55 L283.73,40.76 L283.28,40.97 L282.83,41.19 L282.38,41.40 L281.92,41.61 L281.47,41.83 L281.02,42.04 L280.57,42.26 L280.12,42.47 L279.67,42.69 L279.22,42.91 L278.77,43.13 L278.32,43.34 L277.87,43.56 L277.42,43.78 L276.97,44.00 L276.52,44.22 L276.07,44.44 L275.62,44.66 L275.18,44.89 L274.73,45.11 L274.28,45.33 L273.83,45.55 L273.39,45.78 L272.94,46.00 L272.49,46.23 L272.05,46.45 L271.60,46.68 L271.16,46.91 L270.71,47.13 L270.26,47.36 L269.82,47.59 L269.38,47.82 L268.93,48.05 L268.49,48.28 L268.04,48.51 L267.60,48.74 L267.16,48.97 L266.71,49.20 L266.27,49.44 L265.83,49.67 L265.39,49.90 L264.95,50.14 L264.50,50.37 L264.06,50.61 L263.62,50.84 L263.18,51.08 L262.74,51.32 L262.30,51.55 L261.86,51.79 L261.42,52.03 L260.98,52.27 L260.54,52.51 L260.10,52.75 L259.66,52.99 L259.23,53.23 L258.79,53.47 L258.35,53.71 L257.91,53.95 L257.48,54.20 L257.04,54.44 L256.60,54.68 L256.17,54.93 L255.73,55.17 L255.29,55.42 L254.86,55.66 L254.42,55.91 L253.99,56.15 L253.55,56.40 L253.12,56.65 L252.69,56.90 L252.25,57.15 L251.82,57.39 L251.38,57.64 L250.95,57.89 L250.52,58.14 L250.09,58.40 L249.65,58.65 L249.22,58.90 L248.79,59.15 L248.36,59.40 L247.93,59.66 L247.50,59.91 L247.07,60.17 L246.64,60.42 L246.21,60.68 L245.78,60.93 L245.35,61.19 L244.92,61.44 L244.49,61.70 L244.06,61.96 L243.63,62.22 L243.20,62.47 L242.78,62.73 L242.35,62.99 L241.92,63.25 L241.50,63.51 L241.07,63.77 L240.64,64.03 L240.22,64.30 L239.79,64.56 L239.37,64.82 L238.94,65.08 L238.52,65.35 L238.09,65.61 L237.67,65.88 L237.24,66.14 L236.82,66.41 L236.39,66.67 L235.97,66.94 L235.55,67.20 L235.13,67.47 L234.70,67.74 L234.28,68.01 L233.86,68.28 L233.44,68.54 L233.02,68.81 L232.60,69.08 L232.17,69.35 L231.75,69.62 L231.33,69.90 L230.91,70.17 L230.49,70.44 L230.08,70.71 L229.66,70.98 L229.24,71.26 L228.82,71.53 L228.40,71.80 L227.98,72.08 L227.57,72.35 L227.15,72.63 L226.73,72.91 L226.31,73.18 L225.90,73.46 L225.48,73.74 L225.07,74.01 L224.65,74.29 L224.23,74.57 L223.82,74.85 L223.41,75.13 L222.99,75.41 L222.58,75.69 L222.16,75.97 L221.75,76.25 L221.34,76.53 L220.92,76.81 L220.51,77.09 L220.10,77.38 L219.69,77.66 L219.27,77.94 L218.86,78.23 L218.45,78.51 L218.04,78.80 L217.63,79.08 L217.22,79.37 L216.81,79.65 L216.40,79.94 L215.99,80.23 L215.58,80.51 L215.17,80.80 L214.76,81.09 L214.35,81.38 L213.95,81.67 L213.54,81.96 L213.13,82.25 L212.72,82.54 L212.32,82.83 L211.91,83.12 L211.50,83.41 L211.10,83.70 L210.69,83.99 L210.29,84.29 L209.88,84.58 L209.48,84.87 L209.07,85.17 L208.67,85.46 L208.26,85.76 L207.86,86.05 L207.46,86.35 L207.05,86.64 L206.65,86.94 L206.25,87.23 L205.85,87.53 L205.44,87.83 L205.04,88.13 L204.64,88.42 L204.24,88.72 L203.84,89.02 L203.44,89.32 L203.04,89.62 L202.64,89.92 L202.24,90.22 L201.84,90.52 L201.44,90.83 L201.04,91.13 L200.64,91.43 L200.25,91.73 L199.85,92.04 L199.45,92.34 L199.05,92.64 L198.66,92.95 L198.26,93.25 L197.86,93.56 L197.47,93.86 L197.07,94.17 L196.68,94.47 L196.28,94.78 L195.89,95.09 L195.49,95.39 L195.10,95.70 L194.71,96.01 L194.31,96.32 L193.92,96.63 L193.53,96.94 L193.13,97.25 L192.74,97.56 L192.35,97.87 L191.96,98.18 L191.57,98.49 L191.18,98.80 L190.79,99.11 L190.39,99.43 L190.00,99.74 L189.62,100.05 L189.23,100.37 L188.84,100.68 L188.45,100.99 L188.06,101.31 L187.67,101.62 L187.28,101.94 L186.90,102.25 L186.51,102.57 L186.12,102.89 L185.73,103.20 L185.35,103.52 L184.96,103.84 L184.58,104.16 L184.19,104.48 L183.81,104.80 L183.42,105.11 L183.04,105.43 L182.65,105.75 L182.27,106.07 L181.89,106.40 L181.50,106.72 L181.12,107.04 L180.74,107.36 L180.35,107.68 L179.97,108.01 L179.59,108.33 L179.21,108.65 L178.83,108.98 L178.45,109.30 L178.07,109.62 L177.69,109.95 L177.31,110.27 L176.93,110.60 L176.55,110.93 L176.17,111.25 L175.79,111.58 L175.41,111.91 L175.04,112.23 L174.66,112.56 L174.28,112.89 L173.91,113.22 L173.53,113.55 L173.15,113.88 L172.78,114.21 L172.40,114.54 L172.03,114.87 L171.65,115.20 L171.28,115.53 L170.90,115.86 L170.53,116.19 L170.16,116.53 L169.78,116.86 L169.41,117.19 L169.04,117.53 L168.67,117.86 L168.29,118.19 L167.92,118.53 L167.55,118.86 L167.18,119.20 L166.81,119.54 L166.44,119.87 L166.07,120.21 L165.70,120.55 L165.33,120.88 L164.96,121.22 L164.59,121.56 L164.23,121.90 L163.86,122.24 L163.49,122.57 L163.12,122.91 L162.76,123.25 L162.39,123.59 L162.02,123.93 L161.66,124.27 L161.29,124.62 L160.93,124.96 L160.56,125.30 L160.20,125.64 L159.83,125.98 L159.47,126.33 L159.11,126.67 L158.74,127.02 L158.38,127.36 L158.02,127.70 L157.66,128.05 L157.29,128.39 L156.93,128.74 L156.57,129.09 L156.21,129.43 L155.85,129.78 L155.49,130.13 L155.13,130.47 L154.77,130.82 L154.41,131.17 L154.06,131.52 L153.70,131.87 L153.34,132.22 L152.98,132.57 L152.63,132.92 L152.27,133.27 L151.91,133.62 L151.56,133.97 L151.20,134.32 L150.84,134.67 L150.49,135.02 L150.14,135.38 L149.78,135.73 L149.43,136.08 L149.07,136.43 L148.72,136.79 L148.37,137.14 L148.01,137.50 L147.66,137.85 L147.31,138.21 L146.96,138.56 L146.61,138.92 L146.26,139.28 L145.91,139.63 L145.56,139.99 L145.21,140.35 L144.86,140.71 L144.51,141.06 L144.16,141.42 L143.81,141.78 L143.47,142.14 L143.12,142.50 L142.77,142.86 L142.42,143.22 L142.08,143.58 L141.73,143.94 L141.39,144.30 L141.04,144.66 L140.70,145.03 L140.35,145.39 L140.01,145.75 L139.66,146.11 L139.32,146.48 L138.98,146.84 L138.64,147.21 L138.29,147.57 L137.95,147.94 L137.61,148.30 L137.27,148.67 L136.93,149.03 L136.59,149.40 L136.25,149.77 L135.91,150.13 L135.57,150.50 L135.23,150.87 L134.89,151.24 L134.55,151.60 L134.22,151.97 L133.88,152.34 L133.54,152.71 L133.21,153.08 L132.87,153.45 L132.53,153.82 L132.20,154.19 L131.86,154.56 L131.53,154.94 L131.19,155.31 L130.86,155.68 L130.53,156.05 L130.19,156.42 L129.86,156.80 L129.53,157.17 L129.20,157.55 L128.87,157.92 L128.53,158.29 L128.20,158.67 L127.87,159.04 L127.54,159.42 L127.21,159.80 L126.88,160.17 L126.55,160.55 L126.23,160.93 L125.90,161.30 L125.57,161.68 L125.24,162.06 L124.92,162.44 L124.59,162.82 L124.26,163.19 L123.94,163.57 L123.61,163.95 L123.29,164.33 L122.96,164.71 L122.64,165.09 L122.32,165.48 L121.99,165.86 L121.67,166.24 L121.35,166.62 L121.02,167.00 L120.70,167.39 L120.38,167.77 L120.06,168.15 L119.74,168.54 L119.42,168.92 L119.10,169.30 L118.78,169.69 L118.46,170.07 L118.14,170.46 L117.82,170.84 L117.51,171.23 L117.19,171.62 L116.87,172.00 L116.56,172.39 L116.24,172.78 L115.92,173.17 L115.61,173.55 L115.29,173.94 L114.98,174.33 L114.66,174.72 L114.35,175.11 L114.04,175.50 L113.72,175.89 L113.41,176.28 L113.10,176.67 L112.79,177.06 L112.47,177.45 L112.16,177.84 L111.85,178.23 L111.54,178.63 L111.23,179.02 L110.92,179.41 L110.61,179.80 L110.30,180.20 L110.00,180.59 L109.69,180.98 L109.38,181.38 L109.07,181.77 L108.77,182.17 L108.46,182.56 L108.15,182.96 L107.85,183.35 L107.54,183.75 L107.24,184.15 L106.93,184.54 L106.63,184.94 L106.33,185.34 L106.02,185.73 L105.72,186.13 L105.42,186.53 L105.12,186.93 L104.81,187.33 L104.51,187.73 L104.21,188.13 L103.91,188.52 L103.61,188.92 L103.31,189.32 L103.01,189.73 L102.71,190.13 L102.41,190.53 L102.11,190.93 L101.82,191.33 L101.52,191.73 L101.22,192.13 L100.93,192.54 L100.63,192.94 L100.33,193.34 L100.04,193.74 L99.74,194.15 L99.45,194.55 L99.15,194.96 L98.86,195.36 L98.56,195.76 L98.27,196.17 L97.98,196.57 L97.68,196.98 L97.39,197.38 L97.10,197.79 L96.81,198.20 L96.52,198.60 L96.23,199.01 L95.93,199.42 L95.64,199.82 L95.35,200.23 L95.06,200.64 L94.78,201.05 L94.49,201.45 L94.20,201.86 L93.91,202.27 L93.62,202.68 L93.33,203.09 L93.05,203.50 L92.76,203.91 L92.47,204.32 L92.19,204.73 L91.90,205.14 L91.61,205.55 L91.33,205.96 L91.04,206.37 L90.76,206.78 L90.47,207.19 L90.19,207.60 L89.91,208.01 L89.62,208.43 L89.34,208.84 L89.06,209.25 L88.77,209.66 L88.49,210.07 L88.21,210.49 L87.93,210.90 L87.65,211.31 L87.37,211.73 L87.08,212.14 L86.80,212.55 L86.52,212.97 L86.24,213.38 L85.96,213.80 L85.68,214.21 L85.40,214.63 L85.12,215.04 L84.85,215.46 L84.57,215.87 L84.29,216.29 L84.01,216.70 L83.73,217.12 L83.45,217.53 L83.18,217.95 L82.90,218.36 L82.62,218.78 L82.35,219.20 L82.07,219.61 L81.79,220.03 L81.52,220.45 L81.24,220.86 L80.96,221.28 L80.69,221.70 L80.41,222.11 L80.14,222.53 L79.86,222.95 L79.59,223.37 L79.31,223.78 L79.04,224.20 L78.76,224.62 L78.49,225.04 L78.21,225.46 L77.94,225.87 L77.66,226.29 L77.39,226.71 L77.12,227.13 L76.84,227.55 L76.57,227.96 L76.29,228.38 L76.02,228.80 L75.75,229.22 L75.47,229.64 L75.20,230.06 L74.93,230.48 L74.65,230.89 L74.38,231.31 L74.11,231.73 L73.83,232.15 L73.56,232.57 L73.29,232.99 L73.01,233.41 L72.74,233.83 L72.47,234.24 L72.19,234.66 L71.92,235.08 L71.65,235.50 L71.37,235.92 L71.10,236.34 L70.83,236.76 L70.55,237.17 L70.28,237.59 L70.01,238.01 L69.73,238.43 L69.46,238.85 L69.18,239.27 L68.91,239.68 L68.64,240.10 L68.36,240.52 L68.09,240.94 L67.81,241.36 L67.54,241.77 L67.26,242.19 L66.99,242.61 L66.71,243.03 L66.44,243.44 L66.16,243.86 L65.89,244.28 L65.61,244.70 L65.33,245.11 L65.06,245.53 L64.79,245.94" fill="none" stroke="#996633" stroke-width="1.8" stroke-linejoin="round" stroke-dasharray="17.744 4.436" stroke-dashoffset="0"/>
<path d="M380.40,17.25 L379.90,17.26 L379.40,17.27 L378.90,17.28 L378.40,17.29 L377.91,17.31 L377.41,17.32 L376.91,17.34 L376.41,17.36 L375.91,17.39 L375.41,17.41 L374.91,17.44 L374.41,17.47 L373.91,17.50 L373.41,17.53 L372.91,17.57 L372.41,17.60 L371.92,17.64 L371.42,17.68 L370.92,17.72 L370.42,17.77 L369.92,17.81 L369.42,17.86 L368.93,17.91 L368.43,17.96 L367.93,18.01 L367.44,18.06 L366.94,18.12 L366.44,18.18 L365.94,18.23 L365.45,18.29 L364.95,18.36 L364.46,18.42 L363.96,18.48 L363.46,18.55 L362.97,18.62 L362.47,18.69 L361.98,18.76 L361.48,18.83 L360.99,18.90 L360.50,18.97 L360.00,19.05 L359.51,19.13 L359.01,19.21 L358.52,19.29 L358.03,19.37 L357.53,19.45 L357.04,19.54 L356.55,19.62 L356.06,19.71 L355.56,19.79 L355.07,19.88 L354.58,19.97 L354.09,20.07 L353.60,20.16 L353.11,20.25 L352.61,20.35 L352.12,20.45 L351.63,20.54 L351.14,20.64 L350.65,20.74 L350.16,20.84 L349.67,20.95 L349.19,21.05 L348.70,21.15 L348.21,21.26 L347.72,21.37 L347.23,21.48 L346.74,21.58 L346.26,21.69 L345.77,21.81 L345.28,21.92 L344.79,22.03 L344.31,22.15 L343.82,22.26 L343.33,22.38 L342.85,22.50 L342.36,22.62 L341.88,22.74 L341.39,22.86 L340.91,22.98 L340.42,23.10 L339.94,23.22 L339.45,23.35 L338.97,23.48 L338.49,23.60 L338.00,23.73 L337.52,23.86 L337.04,23.99 L336.55,24.12 L336.07,24.25 L335.59,24.38 L335.11,24.52 L334.63,24.65 L334.15,24.79 L333.66,24.92 L333.18,25.06 L332.70,25.20 L332.22,25.34 L331.74,25.48 L331.26,25.62 L330.78,25.76 L330.30,25.90 L329.82,26.04 L329.35,26.19 L328.87,26.33 L328.39,26.48 L327.91,26.62 L327.43,26.77 L326.96,26.92 L326.48,27.07 L326.00,27.22 L325.53,27.37 L325.05,27.52 L324.57,27.68 L324.10,27.83 L323.62,27.98 L323.15,28.14 L322.67,28.29 L322.20,28.45 L321.72,28.61 L321.25,28.77 L320.77,28.92 L320.30,29.08 L319.82,29.24 L319.35,29.41 L318.88,29.57 L318.41,29.73 L317.93,29.89 L317.46,30.06 L316.99,30.22 L316.52,30.39 L316.05,30.55 L315.57,30.72 L315.10,30.89 L314.63,31.06 L314.16,31.23 L313.69,31.40 L313.22,31.57 L312.75,31.74 L312.28,31.91 L311.81,32.09 L311.35,32.26 L310.88,32.43 L310.41,32.61 L309.94,32.79 L309.47,32.96 L309.01,33.14 L308.54,33.32 L308.07,33.50 L307.60,33.67 L307.14,33.85 L306.67,34.04 L306.21,34.22 L305.74,34.40 L305.27,34.58 L304.81,34.76 L304.34,34.95 L303.88,35.13 L303.42,35.32 L302.95,35.50 L302.49,35.69 L302.02,35.88 L301.56,36.07 L301.10,36.26 L300.63,36.44 L300.17,36.63 L299.71,36.83 L299.25,37.02 L298.79,37.21 L298.32,37.40 L297.86,37.59 L297.40,37.79 L296.94,37.98 L296.48,38.18 L296.02,38.37 L295.56,38.57 L295.10,38.77 L294.64,38.96 L294.18,39.16 L293.72,39.36 L293.27,39.56 L292.81,39.76 L292.35,39.96 L291.89,40.16 L291.43,40.36 L290.98,40.56 L290.52,40.77 L290.06,40.97 L289.61,41.18 L289.15,41.38 L288.69,41.59 L288.24,41.79 L287.78,42.00 L287.33,42.20 L286.87,42.41 L286.42,42.62 L285.97,42.83 L285.51,43.04 L285.06,43.25 L284.60,43.46 L284.15,43.67 L283.70,43.88 L283.24,44.09 L282.79,44.31 L282.34,44.52 L281.89,44.73 L281.44,44.95 L280.99,45.16 L280.53,45.38 L280.08,45.60 L279.63,45.81 L279.18,46.03 L278.73,46.25 L278.28,46.47 L277.83,46.69 L277.38,46.90 L276.93,47.12 L276.49,47.35 L276.04,47.57 L275.59,47.79 L275.14,48.01 L274.69,48.23 L274.25,48.46 L273.80,48.68 L273.35,48.90 L272.91,49.13 L272.46,49.36 L272.01,49.58 L271.57,49.81 L271.12,50.03 L270.68,50.26 L270.23,50.49 L269.79,50.72 L269.34,50.95 L268.90,51.18 L268.46,51.41 L268.01,51.64 L267.57,51.87 L267.13,52.10 L266.68,52.33 L266.24,52.57 L265.80,52.80 L265.36,53.03 L264.91,53.27 L264.47,53.50 L264.03,53.74 L263.59,53.97 L263.15,54.21 L262.71,54.45 L262.27,54.69 L261.83,54.92 L261.39,55.16 L260.95,55.40 L260.51,55.64 L260.07,55.88 L259.64,56.12 L259.20,56.36 L258.76,56.60 L258.32,56.85 L257.89,57.09 L257.45,57.33 L257.01,57.57 L256.58,57.82 L256.14,58.06 L255.70,58.31 L255.27,58.55 L254.83,58.80 L254.40,59.05 L253.96,59.29 L253.53,59.54 L253.09,59.79 L252.66,60.04 L252.23,60.29 L251.79,60.53 L251.36,60.78 L250.93,61.03 L250.49,61.29 L250.06,61.54 L249.63,61.79 L249.20,62.04 L248.77,62.29 L248.34,62.55 L247.90,62.80 L247.47,63.05 L247.04,63.31 L246.61,63.56 L246.18,63.82 L245.75,64.08 L245.33,64.33 L244.90,64.59 L244.47,64.85 L244.04,65.11 L243.61,65.36 L243.18,65.62 L242.76,65.88 L242.33,66.14 L241.90,66.40 L241.48,66.66 L241.05,66.92 L240.62,67.19 L240.20,67.45 L239.77,67.71 L239.35,67.97 L238.92,68.24 L238.50,68.50 L238.07,68.77 L237.65,69.03 L237.23,69.30 L236.80,69.56 L236.38,69.83 L235.96,70.10 L235.53,70.36 L235.11,70.63 L234.69,70.90 L234.27,71.17 L233.85,71.44 L233.43,71.71 L233.00,71.98 L232.58,72.25 L232.16,72.52 L231.74,72.79 L231.32,73.06 L230.91,73.33 L230.49,73.61 L230.07,73.88 L229.65,74.15 L229.23,74.43 L228.81,74.70 L228.40,74.98 L227.98,75.25 L227.56,75.53 L227.14,75.80 L226.73,76.08 L226.31,76.36 L225.90,76.64 L225.48,76.91 L225.07,77.19 L224.65,77.47 L224.24,77.75 L223.82,78.03 L223.41,78.31 L222.99,78.59 L222.58,78.87 L222.17,79.16 L221.75,79.44 L221.34,79.72 L220.93,80.00 L220.52,80.29 L220.11,80.57 L219.70,80.86 L219.28,81.14 L218.87,81.43 L218.46,81.71 L218.05,82.00 L217.64,82.28 L217.23,82.57 L216.82,82.86 L216.42,83.15 L216.01,83.43 L215.60,83.72 L215.19,84.01 L214.78,84.30 L214.38,84.59 L213.97,84.88 L213.56,85.17 L213.16,85.46 L212.75,85.76 L212.34,86.05 L211.94,86.34 L211.53,86.63 L211.13,86.93 L210.72,87.22 L210.32,87.52 L209.92,87.81 L209.51,88.11 L209.11,88.40 L208.71,88.70 L208.30,88.99 L207.90,89.29 L207.50,89.59 L207.10,89.89 L206.70,90.18 L206.30,90.48 L205.90,90.78 L205.49,91.08 L205.09,91.38 L204.70,91.68 L204.30,91.98 L203.90,92.28 L203.50,92.58 L203.10,92.89 L202.70,93.19 L202.30,93.49 L201.91,93.80 L201.51,94.10 L201.11,94.40 L200.72,94.71 L200.32,95.01 L199.92,95.32 L199.53,95.62 L199.13,95.93 L198.74,96.24 L198.34,96.54 L197.95,96.85 L197.55,97.16 L197.16,97.47 L196.77,97.78 L196.37,98.09 L195.98,98.40 L195.59,98.71 L195.20,99.02 L194.81,99.33 L194.42,99.64 L194.02,99.95 L193.63,100.26 L193.24,100.57 L192.85,100.89 L192.46,101.20 L192.07,101.51 L191.69,101.83 L191.30,102.14 L190.91,102.46 L190.52,102.77 L190.13,103.09 L189.75,103.41 L189.36,103.72 L188.97,104.04 L188.59,104.36 L188.20,104.67 L187.81,104.99 L187.43,105.31 L187.04,105.63 L186.66,105.95 L186.28,106.27 L185.89,106.59 L185.51,106.91 L185.12,107.23 L184.74,107.55 L184.36,107.88 L183.98,108.20 L183.60,108.52 L183.21,108.84 L182.83,109.17 L182.45,109.49 L182.07,109.82 L181.69,110.14 L181.31,110.47 L180.93,110.79 L180.55,111.12 L180.17,111.44 L179.80,111.77 L179.42,112.10 L179.04,112.43 L178.66,112.75 L178.29,113.08 L177.91,113.41 L177.53,113.74 L177.16,114.07 L176.78,114.40 L176.41,114.73 L176.03,115.06 L175.66,115.39 L175.28,115.73 L174.91,116.06 L174.54,116.39 L174.16,116.72 L173.79,117.06 L173.42,117.39 L173.05,117.72 L172.67,118.06 L172.30,118.39 L171.93,118.73 L171.56,119.06 L171.19,119.40 L170.82,119.74 L170.45,120.07 L170.08,120.41 L169.71,120.75 L169.35,121.09 L168.98,121.43 L168.61,121.76 L168.24,122.10 L167.88,122.44 L167.51,122.78 L167.14,123.12 L166.78,123.46 L166.41,123.81 L166.05,124.15 L165.68,124.49 L165.32,124.83 L164.95,125.17 L164.59,125.52 L164.23,125.86 L163.86,126.21 L163.50,126.55 L163.14,126.89 L162.78,127.24 L162.42,127.59 L162.05,127.93 L161.69,128.28 L161.33,128.62 L160.97,128.97 L160.61,129.32 L160.26,129.67 L159.90,130.02 L159.54,130.36 L159.18,130.71 L158.82,131.06 L158.47,131.41 L158.11,131.76 L157.75,132.11 L157.40,132.46 L157.04,132.82 L156.68,133.17 L156.33,133.52 L155.98,133.87 L155.62,134.22 L155.27,134.58 L154.91,134.93 L154.56,135.29 L154.21,135.64 L153.86,135.99 L153.50,136.35 L153.15,136.71 L152.80,137.06 L152.45,137.42 L152.10,137.77 L151.75,138.13 L151.40,138.49 L151.05,138.85 L150.70,139.20 L150.35,139.56 L150.01,139.92 L149.66,140.28 L149.31,140.64 L148.96,141.00 L148.62,141.36 L148.27,141.72 L147.93,142.08 L147.58,142.45 L147.24,142.81 L146.89,143.17 L146.55,143.53 L146.20,143.90 L145.86,144.26 L145.52,144.62 L145.17,144.99 L144.83,145.35 L144.49,145.72 L144.15,146.08 L143.81,146.45 L143.47,146.81 L143.13,147.18 L142.79,147.55 L142.45,147.91 L142.11,148.28 L141.77,148.65 L141.43,149.02 L141.09,149.39 L140.76,149.76 L140.42,150.13 L140.08,150.49 L139.75,150.86 L139.41,151.24 L139.08,151.61 L138.74,151.98 L138.41,152.35 L138.07,152.72 L137.74,153.09 L137.40,153.47 L137.07,153.84 L136.74,154.21 L136.41,154.59 L136.08,154.96 L135.74,155.33 L135.41,155.71 L135.08,156.08 L134.75,156.46 L134.42,156.84 L134.09,157.21 L133.76,157.59 L133.44,157.97 L133.11,158.34 L132.78,158.72 L132.45,159.10 L132.13,159.48 L131.80,159.85 L131.47,160.23 L131.15,160.61 L130.82,160.99 L130.50,161.37 L130.17,161.75 L129.85,162.13 L129.52,162.52 L129.20,162.90 L128.88,163.28 L128.56,163.66 L128.23,164.04 L127.91,164.43 L127.59,164.81 L127.27,165.19 L126.95,165.58 L126.63,165.96 L126.31,166.35 L125.99,166.73 L125.67,167.12 L125.35,167.50 L125.04,167.89 L124.72,168.27 L124.40,168.66 L124.09,169.05 L123.77,169.43 L123.45,169.82 L123.14,170.21 L122.82,170.60 L122.51,170.99 L122.19,171.38 L121.88,171.76 L121.57,172.15 L121.25,172.54 L120.94,172.93 L120.63,173.33 L120.32,173.72 L120.01,174.11 L119.70,174.50 L119.38,174.89 L119.07,175.28 L118.77,175.68 L118.46,176.07 L118.15,176.46 L117.84,176.86 L117.53,177.25 L117.22,177.64 L116.92,178.04 L116.61,178.43 L116.30,178.83 L116.00,179.22 L115.69,179.62 L115.39,180.02 L115.08,180.41 L114.78,180.81 L114.47,181.21 L114.17,181.60 L113.87,182.00 L113.56,182.40 L113.26,182.80 L112.96,183.20 L112.66,183.59 L112.36,183.99 L112.06,184.39 L111.76,184.79 L111.46,185.19 L111.16,185.59 L110.86,185.99 L110.56,186.40 L110.26,186.80 L109.96,187.20 L109.67,187.60 L109.37,188.00 L109.07,188.41 L108.78,188.81 L108.48,189.21 L108.19,189.61 L107.89,190.02 L107.60,190.42 L107.30,190.83 L107.01,191.23 L106.72,191.64 L106.42,192.04 L106.13,192.45 L105.84,192.85 L105.55,193.26 L105.25,193.67 L104.96,194.07 L104.67,194.48 L104.38,194.89 L104.09,195.29 L103.80,195.70 L103.52,196.11 L103.23,196.52 L102.94,196.93 L102.65,197.34 L102.36,197.75 L102.08,198.15 L101.79,198.56 L101.50,198.97 L101.22,199.38 L100.93,199.80 L100.65,200.21 L100.36,200.62 L100.08,201.03 L99.80,201.44 L99.51,201.85 L99.23,202.26 L98.95,202.68 L98.66,203.09 L98.38,203.50 L98.10,203.92 L97.82,204.33 L97.54,204.74 L97.26,205.16 L96.98,205.57 L96.70,205.99 L96.42,206.40 L96.14,206.82 L95.86,207.23 L95.59,207.65 L95.31,208.06 L95.03,208.48 L94.75,208.90 L94.48,209.31 L94.20,209.73 L93.93,210.15 L93.65,210.56 L93.38,210.98 L93.10,211.40 L92.83,211.82 L92.55,212.23 L92.28,212.65 L92.01,213.07 L91.73,213.49 L91.46,213.91 L91.19,214.33 L90.92,214.75 L90.64,215.17 L90.37,215.59 L90.10,216.01 L89.83,216.43 L89.56,216.85 L89.29,217.27 L89.02,217.69 L88.75,218.12 L88.49,218.54 L88.22,218.96 L87.95,219.38 L87.68,219.80 L87.41,220.23 L87.15,220.65 L86.88,221.07 L86.61,221.49 L86.35,221.92 L86.08,222.34 L85.82,222.77 L85.55,223.19 L85.29,223.61 L85.02,224.04 L84.76,224.46 L84.50,224.89 L84.23,225.31 L83.97,225.74 L83.71,226.16 L83.44,226.59 L83.18,227.01 L82.92,227.44 L82.66,227.87 L82.40,228.29 L82.14,228.72 L81.88,229.15 L81.62,229.57 L81.36,230.00 L81.10,230.43 L80.84,230.85 L80.58,231.28 L80.32,231.71 L80.06,232.14 L79.80,232.57 L79.54,232.99 L79.29,233.42 L79.03,233.85 L78.77,234.28 L78.51,234.71 L78.26,235.14 L78.00,235.57 L77.74,236.00 L77.49,236.43 L77.23,236.86 L76.98,237.29 L76.72,237.72 L76.47,238.15 L76.21,238.58 L75.96,239.01 L75.70,239.44 L75.45,239.87 L75.20,240.30 L74.94,240.73 L74.69,241.16 L74.44,241.59 L74.18,242.02 L73.93,242.45 L73.68,242.89 L73.43,243.32 L73.17,243.75 L72.92,244.18 L72.67,244.61 L72.42,245.05 L72.17,245.48 L71.92,245.91 L71.67,246.34 L71.42,246.78 L71.16,247.21 L70.91,247.64 L70.66,248.07 L70.41,248.51 L70.16,248.94 L69.91,249.37 L69.67,249.81 L69.42,250.24 L69.17,250.67 L68.92,251.11 L68.67,251.54 L68.42,251.97 L68.17,252.41 L67.92,252.84 L67.67,253.28 L67.43,253.71 L67.18,254.14 L66.93,254.58 L66.68,255.01 L66.66,255.06" fill="none" stroke="#ff8000" stroke-width="2.4" stroke-linejoin="round" stroke-dasharray="17.744 8.872" stroke-dashoffset="0"/>
<path d="M49.5,349.5V0.25H398.5M49.0,349.5H399.0M398.5,349.5V0" fill="none" stroke="#4d4d4d" stroke-width="1"/>
<path d="M52.49,349.5v-1.8M52.49,0.5v1.8M49.5,346.24h1.8M398.5,346.24h-1.8M66.48,349.5v-3.3M66.48,0.5v3.3M49.5,332.25h3.3M398.5,332.25h-3.3M80.47,349.5v-1.8M80.47,0.5v1.8M49.5,318.26h1.8M398.5,318.26h-1.8M94.45,349.5v-1.8M94.45,0.5v1.8M49.5,304.28h1.8M398.5,304.28h-1.8M108.44,349.5v-1.8M108.44,0.5v1.8M49.5,290.29h1.8M398.5,290.29h-1.8M122.42,349.5v-1.8M122.42,0.5v1.8M49.5,276.31h1.8M398.5,276.31h-1.8M136.41,349.5v-3.3M136.41,0.5v3.3M49.5,262.32h3.3M398.5,262.32h-3.3M150.40,349.5v-1.8M150.40,0.5v1.8M49.5,248.33h1.8M398.5,248.33h-1.8M164.38,349.5v-1.8M164.38,0.5v1.8M49.5,234.35h1.8M398.5,234.35h-1.8M178.37,349.5v-1.8M178.37,0.5v1.8M49.5,220.36h1.8M398.5,220.36h-1.8M192.35,349.5v-1.8M192.35,0.5v1.8M49.5,206.38h1.8M398.5,206.38h-1.8M206.34,349.5v-3.3M206.34,0.5v3.3M49.5,192.39h3.3M398.5,192.39h-3.3M220.33,349.5v-1.8M220.33,0.5v1.8M49.5,178.40h1.8M398.5,178.40h-1.8M234.31,349.5v-1.8M234.31,0.5v1.8M49.5,164.42h1.8M398.5,164.42h-1.8M248.30,349.5v-1.8M248.30,0.5v1.8M49.5,150.43h1.8M398.5,150.43h-1.8M262.28,349.5v-1.8M262.28,0.5v1.8M49.5,136.45h1.8M398.5,136.45h-1.8M276.27,349.5v-3.3M276.27,0.5v3.3M49.5,122.46h3.3M398.5,122.46h-3.3M290.26,349.5v-1.8M290.26,0.5v1.8M49.5,108.47h1.8M398.5,108.47h-1.8M304.24,349.5v-1.8M304.24,0.5v1.8M49.5,94.49h1.8M398.5,94.49h-1.8M318.23,349.5v-1.8M318.23,0.5v1.8M49.5,80.50h1.8M398.5,80.50h-1.8M332.21,349.5v-1.8M332.21,0.5v1.8M49.5,66.52h1.8M398.5,66.52h-1.8M346.20,349.5v-3.3M346.20,0.5v3.3M49.5,52.53h3.3M398.5,52.53h-3.3M360.19,349.5v-1.8M360.19,0.5v1.8M49.5,38.54h1.8M398.5,38.54h-1.8M374.17,349.5v-1.8M374.17,0.5v1.8M49.5,24.56h1.8M398.5,24.56h-1.8M388.16,349.5v-1.8M388.16,0.5v1.8M49.5,10.57h1.8M398.5,10.57h-1.8" stroke="#555" stroke-width="1" fill="none"/>
<g font-family="'Liberation Serif',serif" font-size="15.6" fill="#000">
<text x="66.90" y="367.6" text-anchor="middle">0</text>
<text x="45.4" y="337.30" text-anchor="end">0</text>
<text x="136.70" y="367.6" text-anchor="middle">100</text>
<text x="45.4" y="267.50" text-anchor="end">100</text>
<text x="206.50" y="367.6" text-anchor="middle">200</text>
<text x="45.4" y="197.70" text-anchor="end">200</text>
<text x="276.30" y="367.6" text-anchor="middle">300</text>
<text x="45.4" y="127.90" text-anchor="end">300</text>
<text x="346.10" y="367.6" text-anchor="middle">400</text>
<text x="45.4" y="58.10" text-anchor="end">400</text>
</g>

<text x="104.6" y="37" font-family="'Liberation Serif',serif" font-size="15.5" fill="#000">RP Model</text>
<text x="204.2" y="389.2" font-family="'Liberation Serif',serif" font-size="16" fill="#000"><tspan font-style="italic">ν</tspan><tspan font-style="italic" font-size="11.5" dy="1.6">L</tspan><tspan dy="-1.6">, Hz</tspan></text>
<text transform="translate(14.2,195.5) rotate(-90)" font-family="'Liberation Serif',serif" font-size="16" fill="#000"><tspan font-style="italic">ν</tspan><tspan font-style="italic" font-size="12" dy="2.3">U</tspan><tspan dy="-2.3">, Hz</tspan></text>
<g fill="none" stroke-width="2">
<path d="M249.8,178.1H281.9" stroke="#000"/>
<path d="M249.8,204.0H281.9" stroke="#0000ff" stroke-dasharray="4.436 4.436"/>
<path d="M249.8,229.9H281.9" stroke="#ff0000" stroke-dasharray="1.1 4.436 4.436 4.436"/>
<path d="M249.8,255.85H281.9" stroke="#996633" stroke-dasharray="17.744 4.436"/>
<path d="M249.8,281.65H281.9" stroke="#ff8000" stroke-dasharray="17.744 8.872"/>
</g>
<text x="287.8" y="182.3" stroke="#1a1a1a" stroke-width="0.2" font-family="'Liberation Sans',sans-serif" font-size="11.0" fill="#1a1a1a">Schw BH</text>
<text x="288.0" y="207.6" stroke="#1a1a1a" stroke-width="0.2" font-family="'Liberation Sans',sans-serif" font-size="11.0" fill="#1a1a1a"><tspan font-style="italic">a</tspan>=0.95; <tspan font-style="italic" dx="0.6">c</tspan><tspan font-style="italic" dy="2.7" font-size="10.5">O</tspan><tspan dy="-2.7" dx="0.2">/</tspan><tspan font-style="italic">M</tspan><tspan dx="0.2" dy="-3.3" font-size="10">2</tspan><tspan dy="3.3" dx="0.2">=10</tspan></text>
<text x="288.0" y="233.6" stroke="#1a1a1a" stroke-width="0.2" font-family="'Liberation Sans',sans-serif" font-size="11.0" fill="#1a1a1a"><tspan font-style="italic">a</tspan>=0.95; <tspan font-style="italic" dx="0.6">c</tspan><tspan font-style="italic" dy="2.7" font-size="10.5">O</tspan><tspan dy="-2.7" dx="0.2">/</tspan><tspan font-style="italic">M</tspan><tspan dx="0.2" dy="-3.3" font-size="10">2</tspan><tspan dy="3.3" dx="0.2">=15</tspan></text>
<text x="288.0" y="259.6" stroke="#1a1a1a" stroke-width="0.2" font-family="'Liberation Sans',sans-serif" font-size="11.0" fill="#1a1a1a"><tspan font-style="italic">a</tspan>=1.05; <tspan font-style="italic" dx="0.6">c</tspan><tspan font-style="italic" dy="2.7" font-size="10.5">O</tspan><tspan dy="-2.7" dx="0.2">/</tspan><tspan font-style="italic">M</tspan><tspan dx="0.2" dy="-3.3" font-size="10">2</tspan><tspan dy="3.3" dx="0.2">=10</tspan></text>
<text x="288.0" y="285.3" stroke="#1a1a1a" stroke-width="0.2" font-family="'Liberation Sans',sans-serif" font-size="11.0" fill="#1a1a1a"><tspan font-style="italic">a</tspan>=1.05; <tspan font-style="italic" dx="0.6">c</tspan><tspan font-style="italic" dy="2.7" font-size="10.5">O</tspan><tspan dy="-2.7" dx="0.2">/</tspan><tspan font-style="italic">M</tspan><tspan dx="0.2" dy="-3.3" font-size="10">2</tspan><tspan dy="3.3" dx="0.2">=15</tspan></text>

</svg>
</body></html>
